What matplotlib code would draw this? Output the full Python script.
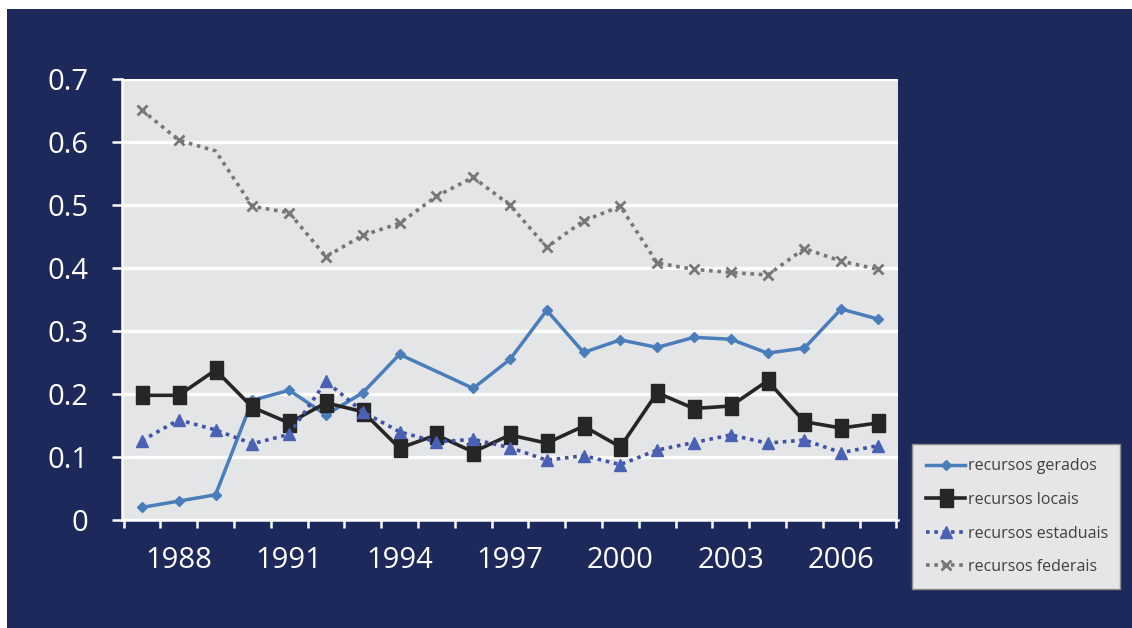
import numpy as np
import matplotlib
matplotlib.use("Agg")
import matplotlib.pyplot as plt
from matplotlib.patches import Rectangle

plt.rcParams['font.family'] = ['Open Sans', 'DejaVu Sans']

# anos da serie e rotulos do eixo x (de 3 em 3)
anos = list(range(1987, 2008))
anos_rotulo = [1988, 1991, 1994, 1997, 2000, 2003, 2006]

# participacao de cada fonte de recursos (None = sem valor)
gerados = [0.02, 0.03, 0.04, 0.19, 0.206, 0.167, 0.202, 0.263, None, 0.209, 0.255,
           0.333, 0.266, 0.286, 0.274, 0.29, 0.287, 0.265, 0.273, 0.335, 0.319]
locais = [0.198, 0.198, 0.238, 0.179, 0.154, 0.186, 0.172, 0.114, 0.135, 0.108, 0.135,
          0.122, 0.149, 0.116, 0.202, 0.177, 0.181, 0.221, 0.156, 0.146, 0.154]
estaduais = [0.126, 0.159, 0.143, 0.121, 0.136, 0.220, 0.172, 0.140, 0.124, 0.128, 0.115,
             0.095, 0.102, 0.088, 0.111, 0.123, 0.135, 0.122, 0.127, 0.107, 0.118]
federais = [0.651, 0.603, 0.586, 0.498, 0.488, 0.418, 0.452, 0.471, 0.514, 0.544, 0.500,
            0.433, 0.475, 0.498, 0.408, 0.398, 0.393, 0.389, 0.431, 0.411, 0.398]

y_ticks = [0, 0.1, 0.2, 0.3, 0.4, 0.5, 0.6, 0.7]
y_rotulos = ['0', '0.1', '0.2', '0.3', '0.4', '0.5', '0.6', '0.7']

azul_fundo = '#1e295b'

fig = plt.figure(figsize=(11.32, 6.28), dpi=100, facecolor='white')
fig.patches.append(Rectangle((7 / 1132, 0), 1, 619 / 628, transform=fig.transFigure,
                             facecolor=azul_fundo, edgecolor='none', zorder=-10))

ax = fig.add_axes([0.1075, 0.172, 0.686, 0.702])
ax.set_facecolor('#e4e5e7')

x = np.arange(len(anos))

def serie(vals):
    v = np.array([np.nan if a is None else a for a in vals], dtype=float)
    ok = ~np.isnan(v)
    return x[ok], v[ok]

# marcador retangular (mais alto que largo)
retangulo = [(-0.36, -0.5), (0.36, -0.5), (0.36, 0.5), (-0.36, 0.5), (-0.36, -0.5)]

xs, ys = serie(gerados)
l1, = ax.plot(xs, ys, color='#4a7ebb', lw=2.5, marker='D', ms=5.5,
              label='recursos gerados', zorder=3)
xs, ys = serie(locais)
l2, = ax.plot(xs, ys, color='#262626', lw=2.6, marker=retangulo, ms=13,
              label='recursos locais', zorder=4)
xs, ys = serie(estaduais)
l3, = ax.plot(xs, ys, color='#4252a6', lw=2.6, ls=(0, (1, 1.3)), marker='^', ms=8,
              mfc='#4a62b4', mec='#4a62b4', label='recursos estaduais', zorder=5)
xs, ys = serie(federais)
l4, = ax.plot(xs, ys, color='#777777', lw=2.6, ls=(0, (1, 1.3)), marker='x', ms=7, mew=2.0,
              markevery=[i for i in range(len(xs)) if i != 2],
              label='recursos federais', zorder=6)

ax.set_xlim(-0.55, len(anos) - 0.45)
ax.set_ylim(0, 0.7)
ax.set_yticks(y_ticks)
ax.set_yticklabels(y_rotulos)
ax.yaxis.grid(True, color='white', lw=2.4)
ax.set_axisbelow(True)

ax.set_xticks([anos.index(a) for a in anos_rotulo])
ax.set_xticklabels([str(a) for a in anos_rotulo])
ax.set_xticks(np.arange(-0.5, len(anos)), minor=True)

for s in ['top', 'right']:
    ax.spines[s].set_visible(False)
for s in ['left', 'bottom']:
    ax.spines[s].set_color('white')
    ax.spines[s].set_linewidth(1.8)

ax.tick_params(axis='y', colors='white', length=7, width=1.8, pad=17, labelsize=21)
ax.tick_params(axis='x', which='major', length=0, pad=19, labelsize=21, labelcolor='white')
ax.tick_params(axis='x', which='minor', length=6, width=1.8, color='white')

leg = fig.legend(handles=[l1, l2, l3, l4], loc='upper left',
                 bbox_to_anchor=(912 / 1132, 1 - 444 / 628, 208 / 1132, 0.0),
                 mode='expand', borderaxespad=0, fontsize=11.5, labelspacing=1.1,
                 handlelength=2.4, handletextpad=0.2, borderpad=0.9,
                 fancybox=False, framealpha=1, numpoints=1)
leg.get_frame().set_facecolor('#e6e6e8')
leg.get_frame().set_edgecolor('#8a8a8a')
leg.get_frame().set_linewidth(1.0)
for t in leg.get_texts():
    t.set_color('#404040')

fig.savefig('out.png', dpi=100, facecolor=fig.get_facecolor())
